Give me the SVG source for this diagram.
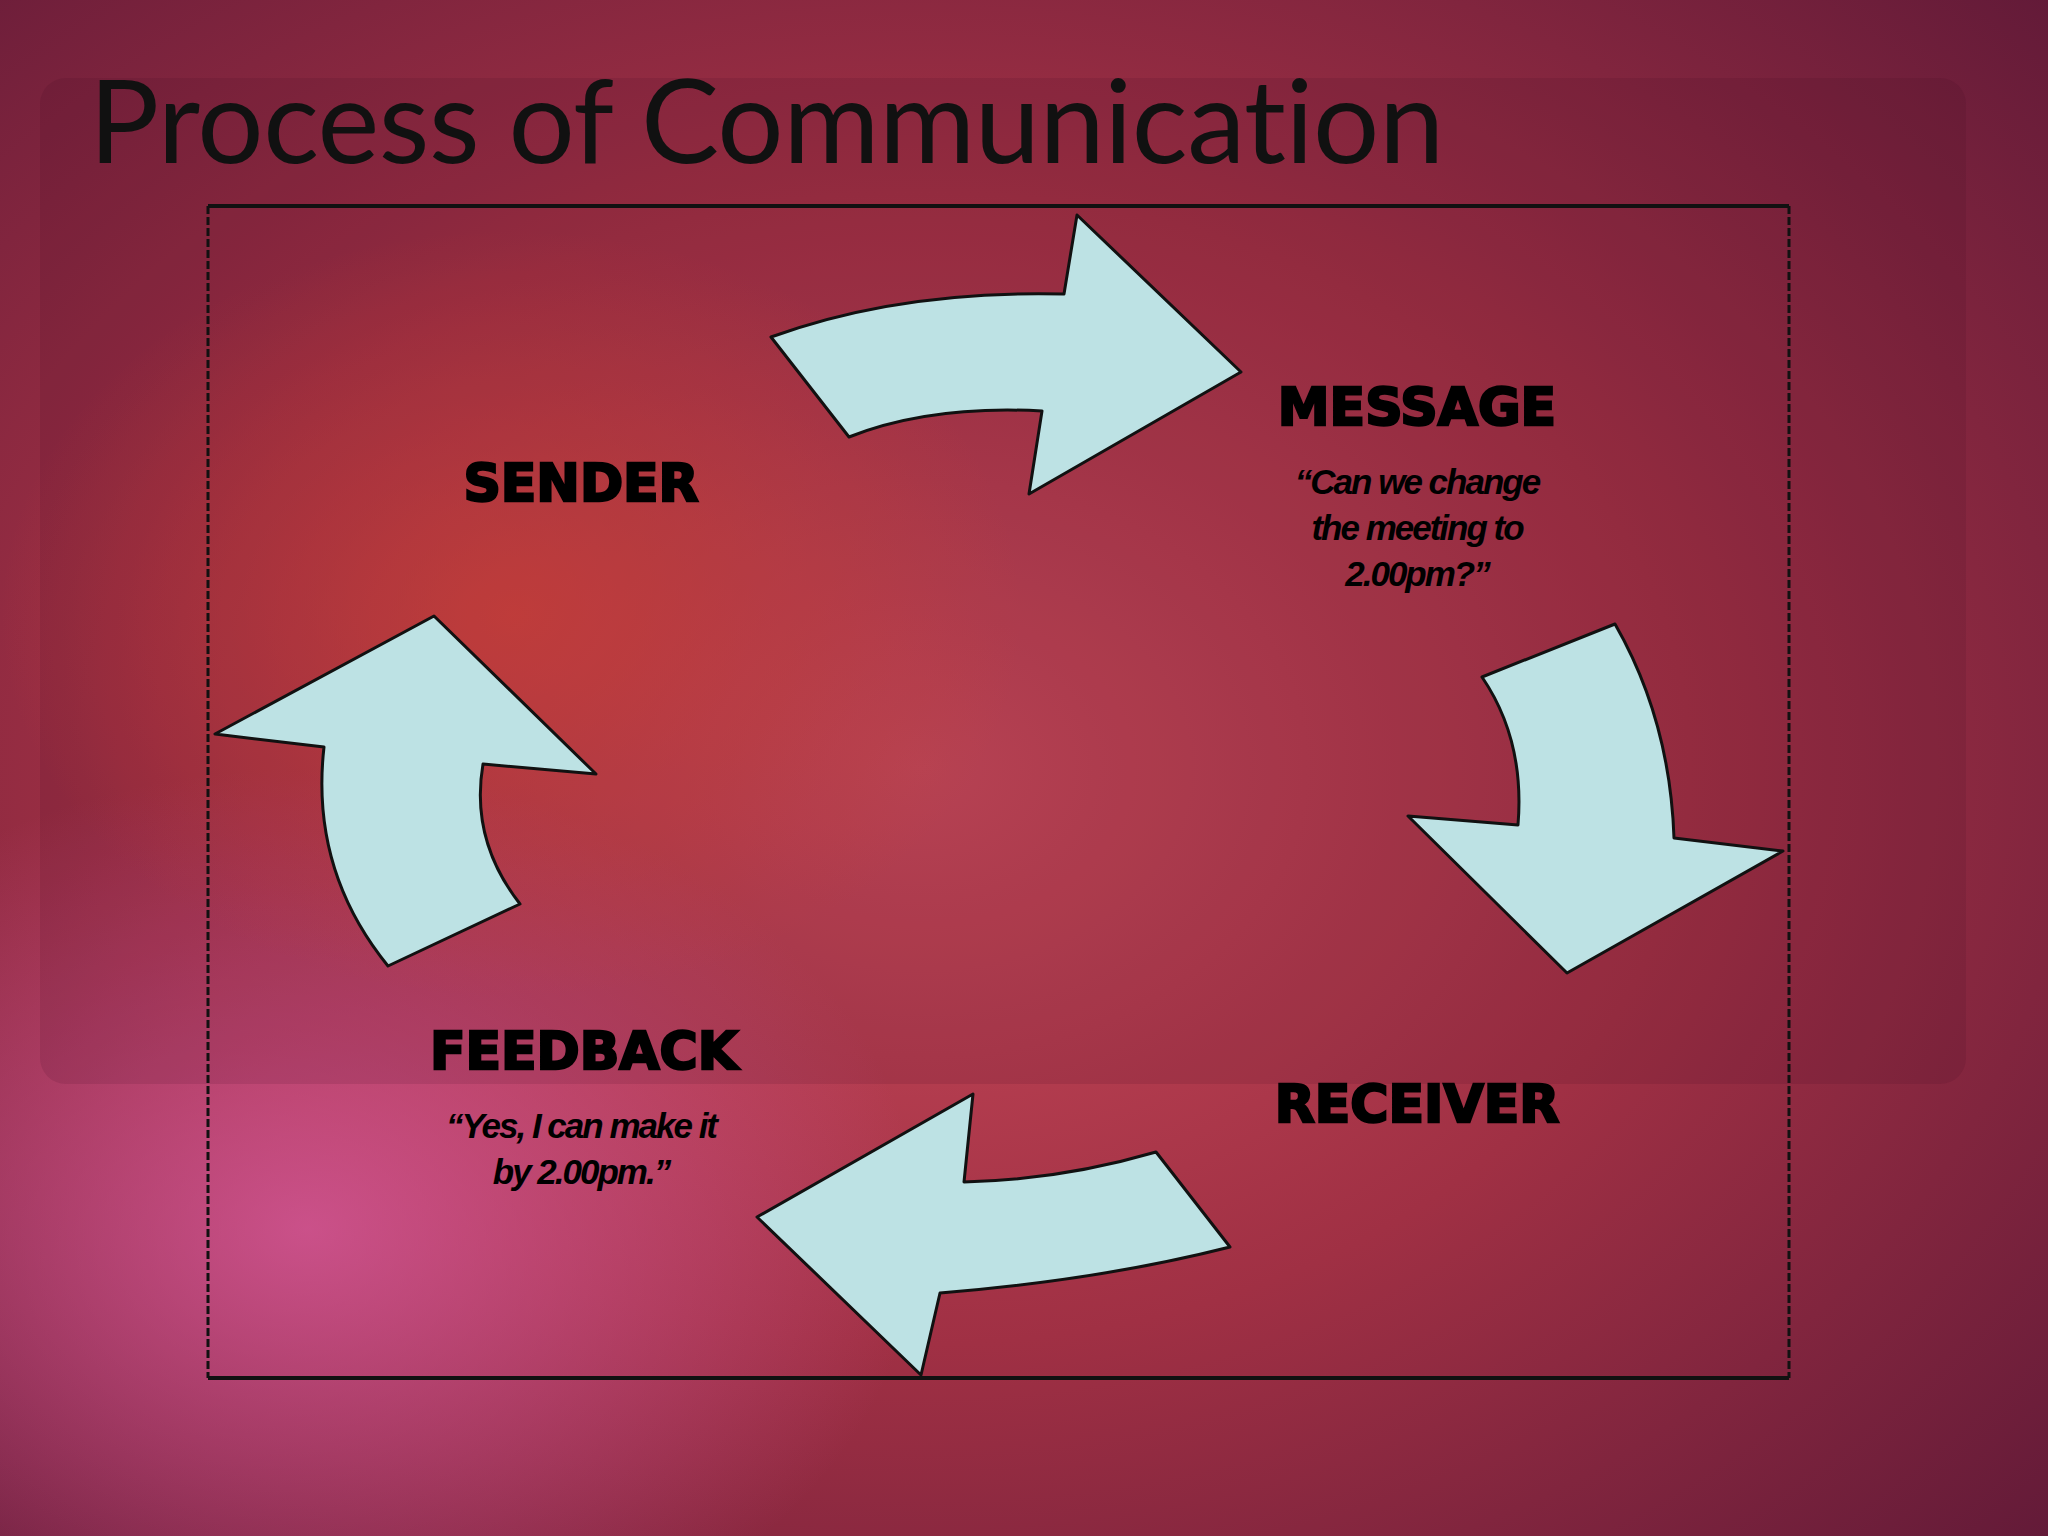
<svg xmlns="http://www.w3.org/2000/svg" width="2048" height="1536" viewBox="0 0 2048 1536">
<defs>
<radialGradient id="bg" cx="0.45" cy="0.5" r="0.75">
<stop offset="0" stop-color="#c84a5a"/>
<stop offset="0.5" stop-color="#a03044"/>
<stop offset="1" stop-color="#621a38"/>
</radialGradient>
<radialGradient id="g2" cx="0.15" cy="0.8" r="0.3">
<stop offset="0" stop-color="#e060a8" stop-opacity="0.7"/>
<stop offset="1" stop-color="#e060a8" stop-opacity="0"/>
</radialGradient>
<radialGradient id="g3" cx="0.25" cy="0.4" r="0.25">
<stop offset="0" stop-color="#e04838" stop-opacity="0.7"/>
<stop offset="1" stop-color="#e04838" stop-opacity="0"/>
</radialGradient>
<style>
.arrow{fill:#bde2e4;stroke:#111;stroke-width:3;stroke-linejoin:round}
.lbl{font-family:"DejaVu Sans",sans-serif;font-weight:bold;font-size:52px;text-anchor:middle;fill:#000;stroke:#000;stroke-width:2.5}
.q{font-family:"Liberation Sans",sans-serif;font-style:italic;font-weight:bold;font-size:35px;text-anchor:middle;fill:#000;letter-spacing:-2px}
</style>
</defs>
<rect width="2048" height="1536" fill="url(#bg)"/>
<rect width="2048" height="1536" fill="url(#g2)"/>
<rect width="2048" height="1536" fill="url(#g3)"/>
<rect x="40" y="78" width="1926" height="1006" rx="26" fill="#3a0820" fill-opacity="0.12"/>
<text x="89" y="163" font-family="Lato,sans-serif" font-size="117" fill="#111" letter-spacing="-0.5">Process of Communication</text>
<g id="frame" fill="none" stroke="#111">
<line x1="208" y1="206" x2="1789" y2="206" stroke-width="4"/>
<line x1="208" y1="1378" x2="1789" y2="1378" stroke-width="4"/>
<line x1="208" y1="206" x2="208" y2="1378" stroke-width="3" stroke-dasharray="8 3"/>
<line x1="1789" y1="206" x2="1789" y2="1378" stroke-width="3" stroke-dasharray="8 3"/>
</g>
<g id="connectors">
<path class="arrow" d="M771,337 Q900,290 1064,294 L1077,215 L1241,372 L1029,494 L1042,411 Q930,405 849,437 Z"/>
<path class="arrow" d="M1482,677 L1615,624 Q1670,720 1674,838 L1783,851 L1567,973 L1408,816 L1518,825 Q1525,740 1482,677 Z"/>
<path class="arrow" d="M1230,1247 L1156,1152 Q1060,1180 964,1182 L973,1094 L757,1217 L921,1375 L940,1293 Q1100,1280 1230,1247 Z"/>
<path class="arrow" d="M388,966 L520,904 Q470,840 483,764 L596,774 L434,616 L215,734 L324,747 Q310,870 388,966 Z"/>
</g>
<g id="sender"><text class="lbl" x="581" y="501">SENDER</text></g>
<g id="message"><text class="lbl" x="1417" y="425">MESSAGE</text>
<text class="q" x="1417" y="494">“Can we change</text>
<text class="q" x="1417" y="540">the meeting to</text>
<text class="q" x="1417" y="586">2.00pm?”</text></g>
<g id="receiver"><text class="lbl" x="1417" y="1122">RECEIVER</text></g>
<g id="feedback"><text class="lbl" x="584" y="1069">FEEDBACK</text>
<text class="q" x="581" y="1138">“Yes, I can make it</text>
<text class="q" x="581" y="1184">by 2.00pm.”</text></g>
</svg>
